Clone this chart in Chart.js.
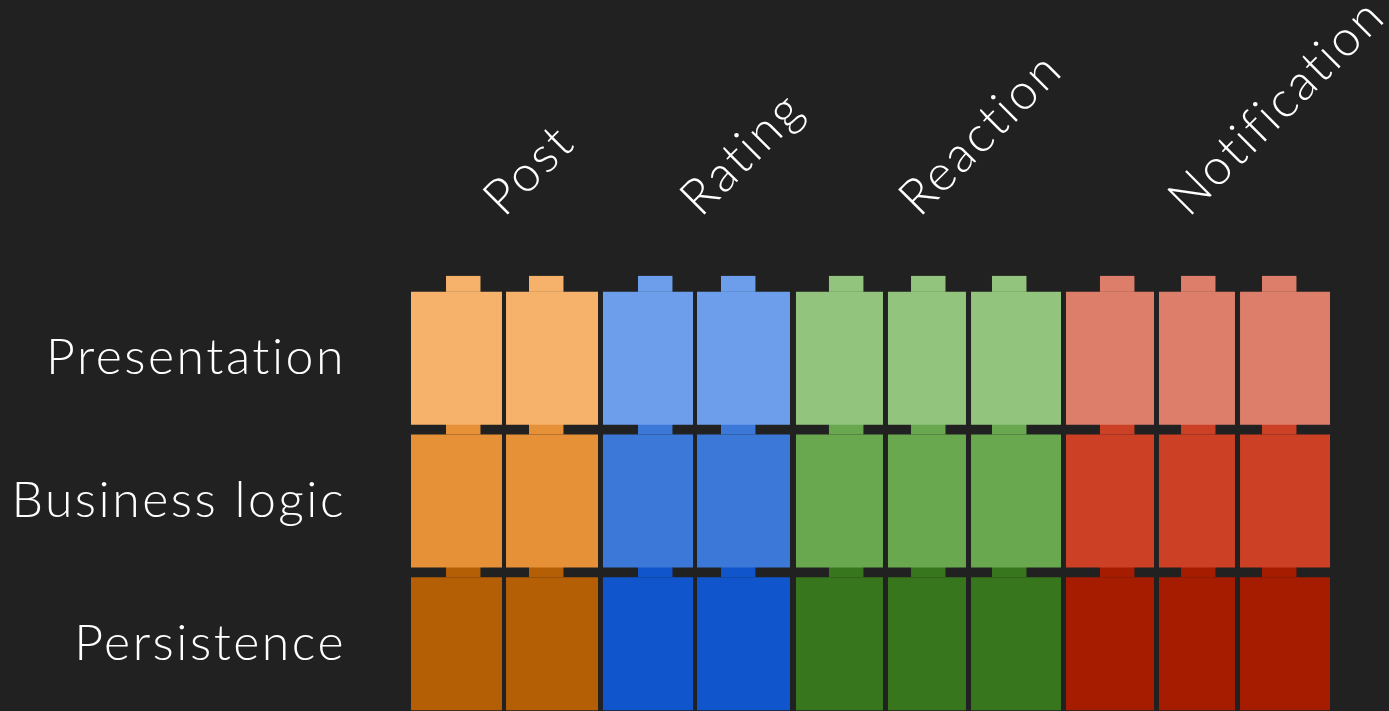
<!DOCTYPE html>
<html>
<head>
<meta charset="utf-8">
<script src="https://cdn.jsdelivr.net/npm/chart.js@4.4.1/dist/chart.umd.min.js"></script>
<style>
  html, body { margin: 0; padding: 0; background: #212121; overflow: hidden; }
  #wrap { width: 1389px; height: 715px; position: relative; }
</style>
</head>
<body>
<div id="wrap"><canvas id="c"></canvas></div>
<script>
// ---- data ----
const layers = ['Presentation', 'Business logic', 'Persistence'];
const groups = ['Post', 'Rating', 'Reaction', 'Notification'];
// where each group label starts along the top axis (percent of the width)
const groupLabelAt = [13.5, 34.9, 58.7, 88.0];
// which group each block column belongs to
const blockGroup = [0, 0, 1, 1, 2, 2, 2, 3, 3, 3];
// block column extents (percent of the width)
const blockStart = [0, 10.34, 20.89, 31.12, 41.89, 51.90, 60.94, 71.27, 81.39, 90.21];
const blockEnd   = [9.90, 20.35, 30.69, 41.24, 51.36, 60.39, 70.73, 80.85, 89.66, 100];
// stud (nub) start of each block column, and stud width (percent of the width)
const studStart = [3.81, 12.84, 24.70, 33.73, 45.48, 54.41, 63.22, 74.97, 83.79, 92.60];
const studWidth = 3.75;
// colours per group: [Presentation, Business logic, Persistence]
const groupColors = [
  ['#f6b26b', '#e69138', '#b45f06'],
  ['#6d9eeb', '#3c78d8', '#1155cc'],
  ['#93c47d', '#6aa84f', '#38761d'],
  ['#dd7e6b', '#cc4125', '#a61c00']
];

const datasets = blockStart.map((s, i) => ({
  label: groups[blockGroup[i]] + ' ' + (i + 1),
  data: layers.map(() => [s, blockEnd[i]]),
  backgroundColor: groupColors[blockGroup[i]].slice(),
  borderWidth: 0,
  grouped: false,
  categoryPercentage: 1,
  barPercentage: 0.932
}));

const FONT = "Lato, 'Open Sans', sans-serif";

const spacingPlugin = {
  id: 'spacing',
  beforeDraw(chart) { chart.ctx.letterSpacing = '2.5px'; }
};

const studPlugin = {
  id: 'studs',
  beforeDatasetsDraw(chart) {
    const ctx = chart.ctx;
    const xs = chart.scales.x;
    ctx.save();
    chart.data.datasets.forEach((ds, di) => {
      const meta = chart.getDatasetMeta(di);
      meta.data.forEach((bar, ri) => {
        const p = bar.getProps(['y', 'height'], true);
        const top = p.y - p.height / 2;
        const h = p.height * 0.12;
        const x0 = xs.getPixelForValue(studStart[di]);
        const x1 = xs.getPixelForValue(studStart[di] + studWidth);
        ctx.fillStyle = ds.backgroundColor[ri];
        ctx.fillRect(x0, top - h, x1 - x0, h);
      });
    });
    ctx.restore();
  }
};

new Chart(document.getElementById('c'), {
  type: 'bar',
  data: { labels: layers, datasets },
  plugins: [spacingPlugin, studPlugin],
  options: {
    indexAxis: 'y',
    responsive: true,
    maintainAspectRatio: false,
    animation: false,
    layout: { padding: { left: 0, right: 59, top: 0, bottom: 0 } },
    plugins: { legend: { display: false }, tooltip: { enabled: false } },
    scales: {
      y: {
        type: 'category',
        offset: true,
        grid: { display: false, drawTicks: false },
        border: { display: false },
        ticks: { color: '#ffffff', font: { family: FONT, size: 50, weight: 300 }, padding: 65 },
        afterFit(scale) {
          scale.width = 411;
          scale.paddingTop = 0; scale.paddingBottom = 0;
        }
      },
      x: {
        type: 'linear',
        position: 'top',
        min: 0,
        max: 100,
        grid: { display: false, drawTicks: false },
        border: { display: false },
        afterBuildTicks(scale) {
          scale.ticks = groupLabelAt.map(v => ({ value: v }));
        },
        ticks: {
          color: '#ffffff',
          font: { family: FONT, size: 50, weight: 300 },
          autoSkip: false,
          minRotation: 45,
          maxRotation: 45,
          padding: 59,
          callback: (v, i) => groups[i]
        },
        afterFit(scale) {
          scale.height = 287;
          scale.paddingLeft = 0; scale.paddingRight = 0;
        }
      }
    }
  }
});
</script>
</body>
</html>
